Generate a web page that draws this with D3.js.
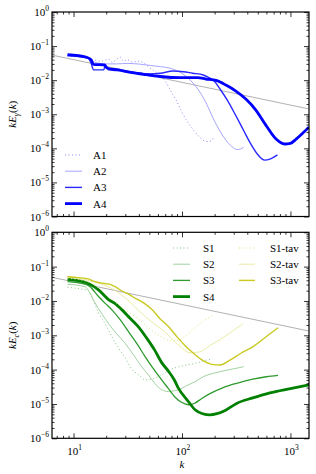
<!DOCTYPE html>
<html><head><meta charset="utf-8">
<script src="https://cdn.jsdelivr.net/npm/d3@7"></script>
<style>body{margin:0;background:#fff} svg{display:block;font-family:"Liberation Serif","DejaVu Serif",serif}</style>
</head><body>
<svg id="c" width="316" height="474"></svg>
<script>
// ---------------- data ----------------
const xDomain = [6.33, 1483];
const yDomain = [1e-6, 1];
const yTickExps = [0, -1, -2, -3, -4, -5, -6];
const xTickExps = [1, 2, 3];

// top panel
const kA1 = [8.8, 12, 15.3, 18, 21, 23, 25, 27, 29, 31, 35, 40, 45, 50.8, 60, 70, 79, 90, 102, 116, 132, 150, 166, 185, 194];
const vA1 = [0.050, 0.046, 0.039, 0.036, 0.041, 0.033, 0.042, 0.047, 0.036, 0.040, 0.034, 0.036, 0.031, 0.0227, 0.0157, 0.0094, 0.0048, 0.0023, 0.00102, 0.00052, 0.0003, 0.000194, 0.000159, 0.000164, 0.000197];
const kA2 = [8.8, 13.5, 15.5, 20, 25, 31, 41, 51, 63, 78, 102, 124, 146, 170, 193, 224, 254, 288, 320, 345, 371];
const vA2 = [0.052, 0.045, 0.034, 0.030, 0.030, 0.031, 0.0295, 0.027, 0.025, 0.0223, 0.0152, 0.0088, 0.0045, 0.0019, 0.00078, 0.00032, 0.000174, 0.000113, 0.000092, 0.000095, 0.000108];
const kA3 = [8.8, 13.5, 14.5, 15.3, 19, 19.6, 21, 26, 31, 40, 50, 63, 83, 103, 125, 157, 181, 194, 224, 265, 312, 369, 428, 497, 577, 655, 759];
const vA3 = [0.053, 0.045, 0.032, 0.020, 0.020, 0.028, 0.020, 0.019, 0.018, 0.016, 0.0152, 0.016, 0.0185, 0.0177, 0.016, 0.0142, 0.0115, 0.0101, 0.0055, 0.00243, 0.00094, 0.00034, 0.00014, 0.000067, 0.000045, 0.000049, 0.000064];
const kA4 = [8.8, 13.2, 14.5, 15.3, 19.3, 20, 21, 26, 31, 44, 63, 96, 140, 166, 206, 254, 314, 388, 480, 593, 733, 885, 1000, 1135, 1300, 1483];
const vA4 = [0.0558, 0.047, 0.040, 0.029, 0.028, 0.024, 0.022, 0.020, 0.0177, 0.0149, 0.0128, 0.0118, 0.0118, 0.0108, 0.0098, 0.0072, 0.0048, 0.0028, 0.00133, 0.00048, 0.00019, 0.000134, 0.00014, 0.00019, 0.00028, 0.00042];
const kRefTop = [6.33, 1483];
const vRefTop = [0.0543, 0.00143];

// bottom panel
const kS1 = [8.8, 11, 13.7, 15.5, 17, 19.5, 22.6, 26, 30, 34, 40, 46, 55, 65, 78, 92, 110, 130, 150, 170, 188];
const vS1 = [0.025, 0.023, 0.020, 0.009, 0.0045, 0.0022, 0.0009, 0.00042, 0.00022, 0.00011, 0.00007, 0.00005, 0.000055, 0.00007, 0.0001, 0.00012, 0.000136, 0.00015, 0.00017, 0.00019, 0.0002];
const kS2 = [8.8, 12.8, 14, 15.8, 18, 21, 25, 30, 36, 42.6, 49, 56, 65, 75, 83, 92, 110, 132, 157, 200, 260, 320, 370];
const vS2 = [0.0306, 0.026, 0.018, 0.0086, 0.0045, 0.0022, 0.0011, 0.00058, 0.00026, 0.00012, 0.00007, 0.00004, 0.000026, 0.000023, 0.000024, 0.0000255, 0.000034, 0.0000445, 0.000062, 0.00008, 0.000097, 0.00011, 0.000122];
const kS3 = [8.8, 12.8, 14, 17, 19.6, 22.6, 27, 32, 38, 45.7, 54, 65, 75, 86, 100, 115, 131, 150, 181, 240, 319, 450, 600, 769];
const vS3 = [0.0364, 0.031, 0.027, 0.0135, 0.0085, 0.0055, 0.0028, 0.0013, 0.0006, 0.00024, 0.00011, 0.00005, 0.000028, 0.000016, 0.000011, 0.0000095, 0.0000105, 0.000014, 0.00002, 0.00003, 0.00004, 0.000053, 0.000062, 0.000068];
const kS4 = [8.8, 12.8, 14, 17, 21, 24, 28, 33, 40, 47, 56, 65, 75, 85, 92, 114, 132, 155, 181, 210, 250, 319, 450, 646, 1000, 1483];
const vS4 = [0.0428, 0.035, 0.031, 0.021, 0.011, 0.0085, 0.0055, 0.0032, 0.0017, 0.00085, 0.00037, 0.00016, 0.00009, 0.00005, 0.00003, 0.000012, 0.0000068, 0.0000052, 0.0000048, 0.0000052, 0.0000065, 0.0000104, 0.000015, 0.000021, 0.000028, 0.000036];
const kS1t = [8.8, 12, 13.7, 17, 20, 24, 28, 33, 40, 51, 63, 78, 92, 110, 130, 155, 188];
const vS1t = [0.046, 0.040, 0.036, 0.024, 0.015, 0.0095, 0.0065, 0.0045, 0.0029, 0.0015, 0.00095, 0.0007, 0.00072, 0.001, 0.0016, 0.0025, 0.0037];
const kS2t = [8.8, 12.8, 15, 18, 22, 27, 33, 40, 53, 63, 75, 96, 118, 146, 180, 224, 290, 366];
const vS2t = [0.049, 0.042, 0.037, 0.031, 0.024, 0.016, 0.0095, 0.0052, 0.0024, 0.0016, 0.001, 0.00047, 0.00031, 0.00033, 0.0005, 0.00075, 0.0013, 0.0022];
const kS3t = [8.8, 11, 13.7, 15.5, 19.6, 22, 24.2, 28, 33, 37, 45, 52.6, 63, 75, 90, 107, 123, 150, 194, 224, 277, 350, 453, 600, 769];
const vS3t = [0.051, 0.048, 0.044, 0.037, 0.032, 0.030, 0.026, 0.0195, 0.015, 0.012, 0.0085, 0.0057, 0.003, 0.0018, 0.0009, 0.0005, 0.00033, 0.0002, 0.00014, 0.000136, 0.00019, 0.0003, 0.00047, 0.00092, 0.00166];
const kRefBot = [6.33, 1483];
const vRefBot = [0.0489, 0.00133];

const topSeries = [
  {name: "A1", k: kA1, v: vA1, color: "#8a8aff", w: 1, dash: "1,2.5"},
  {name: "A2", k: kA2, v: vA2, color: "#9b9bff", w: 0.9, dash: null},
  {name: "A3", k: kA3, v: vA3, color: "#2a2aff", w: 1.4, dash: null},
  {name: "A4", k: kA4, v: vA4, color: "#0000ff", w: 2.8, dash: null}
];
const botSeries = [
  {name: "S1", k: kS1, v: vS1, color: "#86c686", w: 1, dash: "1,2.5"},
  {name: "S2", k: kS2, v: vS2, color: "#96cc96", w: 0.9, dash: null},
  {name: "S3", k: kS3, v: vS3, color: "#2f9a2f", w: 1.3, dash: null},
  {name: "S4", k: kS4, v: vS4, color: "#008000", w: 2.8, dash: null},
  {name: "S1-tav", k: kS1t, v: vS1t, color: "#e2e27a", w: 1, dash: "1,2.5"},
  {name: "S2-tav", k: kS2t, v: vS2t, color: "#e8e89a", w: 0.9, dash: null},
  {name: "S3-tav", k: kS3t, v: vS3t, color: "#c9c921", w: 1.4, dash: null}
];

// ---------------- drawing ----------------
const svg = d3.select("#c");
const L = 52, R = 309;
const x = d3.scaleLog().domain(xDomain).range([L, R]);

const panels = [
  {top: 12, bottom: 216.5, series: topSeries, ref: [kRefTop, vRefTop], label: "γ", xlabels: false,
   legend: {cols: [{names: ["A1","A2","A3","A4"], x0: 65, x1: 82, tx: 93}], y0: 155, dy: 16.2}},
  {top: 232.3, bottom: 438.3, series: botSeries, ref: [kRefBot, vRefBot], label: "c", xlabels: true,
   legend: {cols: [{names: ["S1","S2","S3","S4"], x0: 173, x1: 190, tx: 203},
                   {names: ["S1-tav","S2-tav","S3-tav"], x0: 239, x1: 255, tx: 270}], y0: 248, dy: 16.2}}
];

function minorTicks(dom) {
  const out = [];
  for (let e = -7; e <= 4; e++) for (let m = 2; m <= 9; m++) {
    const v = m * Math.pow(10, e);
    if (v > dom[0] && v < dom[1]) out.push(v);
  }
  return out;
}
const xMajors = xTickExps.map(e => Math.pow(10, e));
const yMajors = yTickExps.map(e => Math.pow(10, e));
const xMinors = minorTicks(xDomain);
const yMinors = minorTicks(yDomain);

panels.forEach((p, i) => {
  const y = d3.scaleLog().domain(yDomain).range([p.bottom, p.top]);
  const g = svg.append("g");
  const clipId = "clip" + i;
  svg.append("clipPath").attr("id", clipId).append("rect")
    .attr("x", L).attr("y", p.top).attr("width", R - L).attr("height", p.bottom - p.top);

  const line = d3.line().x(d => x(d[0])).y(d => y(d[1])).curve(d3.curveMonotoneX);
  const plot = g.append("g").attr("clip-path", `url(#${clipId})`);

  plot.append("path").attr("d", line(p.ref[0].map((k, j) => [k, p.ref[1][j]])))
    .attr("fill", "none").attr("stroke", "#a8a8a8").attr("stroke-width", 0.9);

  p.series.forEach(s => {
    plot.append("path").attr("d", line(s.k.map((k, j) => [k, s.v[j]])))
      .attr("fill", "none").attr("stroke", s.color).attr("stroke-width", s.w)
      .attr("stroke-linejoin", "round")
      .attr("stroke-dasharray", s.dash);
  });

  const mk = (axisFn, scale, vals, size, tx, ty) => {
    const a = g.append("g").attr("transform", `translate(${tx},${ty})`)
      .call(axisFn(scale).tickValues(vals).tickSize(size).tickFormat(""));
    a.select(".domain").remove();
    a.selectAll("line").attr("stroke", "#000").attr("stroke-width", 0.8);
  };
  mk(d3.axisBottom, x, xMajors, -5, 0, p.bottom);
  mk(d3.axisBottom, x, xMinors, -2.5, 0, p.bottom);
  mk(d3.axisTop, x, xMajors, -5, 0, p.top);
  mk(d3.axisTop, x, xMinors, -2.5, 0, p.top);
  mk(d3.axisLeft, y, yMajors, -5, L, 0);
  mk(d3.axisLeft, y, yMinors, -2.5, L, 0);
  mk(d3.axisRight, y, yMajors, -5, R, 0);
  mk(d3.axisRight, y, yMinors, -2.5, R, 0);

  g.append("rect").attr("x", L).attr("y", p.top).attr("width", R - L).attr("height", p.bottom - p.top)
    .attr("fill", "none").attr("stroke", "#000").attr("stroke-width", 1.2);

  yTickExps.forEach(e => {
    const t = g.append("text").attr("x", L - 3).attr("y", y(Math.pow(10, e)) + 4)
      .attr("text-anchor", "end").attr("font-size", 11).attr("fill", "#000");
    t.append("tspan").text("10");
    t.append("tspan").attr("dy", -5).attr("font-size", 7.5).text(e === 0 ? "0" : "\u2212" + (-e));
  });

  if (p.xlabels) {
    xTickExps.forEach(e => {
      const t = g.append("text").attr("x", x(Math.pow(10, e)) + 1).attr("y", p.bottom + 17)
        .attr("text-anchor", "middle").attr("font-size", 11).attr("fill", "#000");
      t.append("tspan").text("10");
      t.append("tspan").attr("dy", -5).attr("font-size", 7.5).text(String(e));
    });
    g.append("text").attr("x", x(100)).attr("y", p.bottom + 30)
      .attr("text-anchor", "middle").attr("font-size", 11).attr("font-style", "italic").text("k");
  }

  const cy = (p.top + p.bottom) / 2;
  const yl = g.append("text").attr("transform", `translate(16,${cy}) rotate(-90)`)
    .attr("text-anchor", "middle").attr("font-size", 11).attr("fill", "#000");
  yl.append("tspan").attr("font-style", "italic").text("kE");
  yl.append("tspan").attr("font-style", "italic").attr("font-size", 8).attr("dy", 3).text(p.label);
  yl.append("tspan").attr("dy", -3).text("(");
  yl.append("tspan").attr("font-style", "italic").text("k");
  yl.append("tspan").text(")");

  p.legend.cols.forEach(col => {
    col.names.forEach((nm, j) => {
      const s = p.series.find(d => d.name === nm);
      const yy = p.legend.y0 + j * p.legend.dy;
      g.append("line").attr("x1", col.x0).attr("x2", col.x1).attr("y1", yy).attr("y2", yy)
        .attr("stroke", s.color).attr("stroke-width", s.w).attr("stroke-dasharray", s.dash);
      g.append("text").attr("x", col.tx).attr("y", yy + 4).attr("font-size", 11).attr("fill", "#000").text(nm);
    });
  });
});
</script>
</body></html>
